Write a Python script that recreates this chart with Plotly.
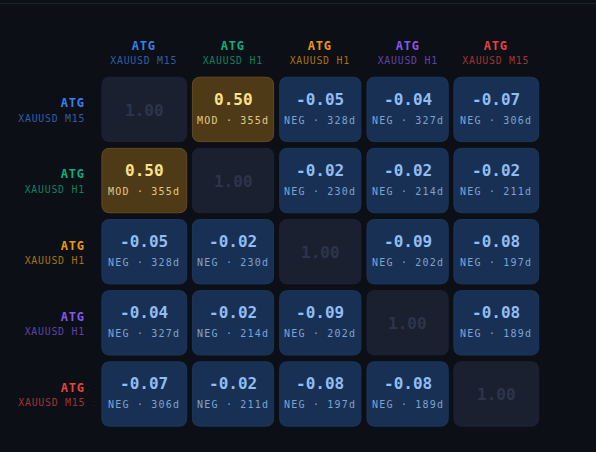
import plotly.graph_objects as go

# ---- data ----
instruments = ["XAUUSD M15", "XAUUSD H1", "XAUUSD H1", "XAUUSD H1", "XAUUSD M15"]
strategies = ["ATG", "ATG", "ATG", "ATG", "ATG"]
correlation = [
    [1.00, 0.50, -0.05, -0.04, -0.07],
    [0.50, 1.00, -0.02, -0.02, -0.02],
    [-0.05, -0.02, 1.00, -0.09, -0.08],
    [-0.04, -0.02, -0.09, 1.00, -0.08],
    [-0.07, -0.02, -0.08, -0.08, 1.00],
]
overlap_days = [
    [None, 355, 328, 327, 306],
    [355, None, 230, 214, 211],
    [328, 230, None, 202, 197],
    [327, 214, 202, None, 189],
    [306, 211, 197, 189, None],
]
classes = [
    ["", "MOD", "NEG", "NEG", "NEG"],
    ["MOD", "", "NEG", "NEG", "NEG"],
    ["NEG", "NEG", "", "NEG", "NEG"],
    ["NEG", "NEG", "NEG", "", "NEG"],
    ["NEG", "NEG", "NEG", "NEG", ""],
]

# ---- style ----
W, H = 596, 452
FONT = "DejaVu Sans Mono"
BG = "#0c0f16"
X0, XP, Y0, YP = 144.3, 88.0, 109.4, 71.15
col_shift = [0, 0.7, 0, -0.7, 0]      # px
col_half = [42.4, 40.6, 40.6, 40.6, 42.4]  # px
row_half = 32.2                       # px
RADIUS = 8.0                          # px
LABEL_RIGHT = 85.0                    # px
series_col = ["#3b7fe8", "#10ad7a", "#eb980f", "#8558ea", "#e54242"]
series_sub = ["#2f5da6", "#128061", "#a9710f", "#5f44a8", "#a03434"]
STYLE = {
    "NEG": dict(fill="#183054", line="#1c365d", val="#90bdf2", sub="#7fa2cf"),
    "MOD": dict(fill="#4e3a17", line="#634b1f", val="#fbe28a", sub="#e0cb84"),
    "": dict(fill="#1b2030", line="#1d2232", val="#2c354a", sub="#2c354a"),
}


def rounded(cx, cy, hx, hy, rx, ry):
    l, r, t, b = cx - hx, cx + hx, cy - hy, cy + hy
    return (f"M {l+rx} {t} L {r-rx} {t} Q {r} {t} {r} {t+ry} L {r} {b-ry} Q {r} {b} {r-rx} {b} "
            f"L {l+rx} {b} Q {l} {b} {l} {b-ry} L {l} {t+ry} Q {l} {t} {l+rx} {t} Z")


fig = go.Figure()
shapes, ann = [], []


def text(x, y, s, size, color, yshift=0, bold=False):
    ann.append(dict(x=x, y=y, xref="x", yref="y", text=s, showarrow=False, xanchor="center", yanchor="middle",
                    yshift=yshift - 0.7, font=dict(family=FONT, size=size, color=color, weight=700 if bold else 400)))


def label_x(s, char_w):
    return (LABEL_RIGHT - len(s) * char_w / 2 - X0) / XP


n = len(correlation)
for r in range(n):
    for c in range(n):
        cls = classes[r][c]
        st = STYLE[cls]
        cx = c + col_shift[c] / XP
        shapes.append(dict(type="path", xref="x", yref="y", layer="below",
                           path=rounded(cx, r, col_half[c] / XP, row_half / YP, RADIUS / XP, RADIUS / YP),
                           fillcolor=st["fill"], line=dict(color=st["line"], width=1)))
        val = f"{correlation[r][c]:.2f}"
        if cls:
            text(cx, r, val, 16, st["val"], yshift=10.8, bold=True)
            text(cx, r, f"{cls} · {overlap_days[r][c]}d", 10, st["sub"], yshift=-10)
        else:
            text(cx, r, val, 16, st["val"], bold=True)

for i in range(n):
    cx = i + col_shift[i] / XP
    text(cx, (45.7 - Y0) / YP, strategies[i], 12, series_col[i], bold=True)
    text(cx, (59.3 - Y0) / YP, instruments[i], 9.9, series_sub[i])
    text(label_x(strategies[i], 8.0), i, strategies[i], 12, series_col[i], yshift=6.8, bold=True)
    text(label_x(instruments[i], 6.7), i, instruments[i], 9.9, series_sub[i], yshift=-8)

shapes.append(dict(type="line", xref="paper", yref="paper", x0=0, x1=1, y0=1 - 3.5 / H, y1=1 - 3.5 / H,
                   line=dict(color="#1b2230", width=1)))

# invisible trace anchors the axes to the matrix indices
fig.add_trace(go.Scatter(x=list(range(n)), y=list(range(n)), mode="markers", marker=dict(opacity=0),
                         hoverinfo="skip", showlegend=False))
fig.update_layout(
    width=W, height=H, margin=dict(l=0, r=0, t=0, b=0), paper_bgcolor=BG, plot_bgcolor=BG,
    shapes=shapes, annotations=ann, showlegend=False,
    xaxis=dict(range=[-X0 / XP, (W - X0) / XP], visible=False, fixedrange=True),
    yaxis=dict(range=[(H - Y0) / YP, -Y0 / YP], visible=False, fixedrange=True),
)
post = """
document.body.style.margin='0';document.body.style.overflow='hidden';document.body.style.background='%s';
document.querySelectorAll('.annotation-text').forEach(function(t){
  var s=parseFloat(t.style.fontSize);
  t.style.letterSpacing = s<9.95 ? '0.75px' : (s<10.5 ? '1.2px' : (s<13 ? '0.8px' : '0'));
});
""" % BG
fig.write_html("out.html", post_script=post, config={"displayModeBar": False})
